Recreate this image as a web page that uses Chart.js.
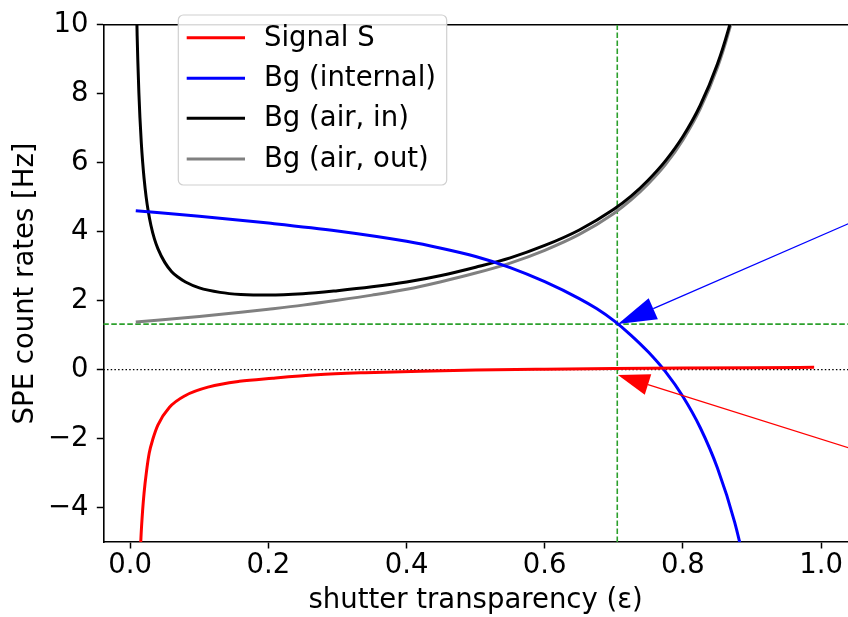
<!DOCTYPE html>
<html>
<head>
<meta charset="utf-8">
<script src="https://cdn.jsdelivr.net/npm/chart.js@4.4.1/dist/chart.umd.min.js"></script>
<style>
  html, body { margin: 0; padding: 0; background: #fff; }
  #chart { display: block; }
</style>
</head>
<body>
<canvas id="chart" width="848" height="617" style="width:848px;height:617px"></canvas>
<script>
// values
const sigX = [0.008, 0.01, 0.0125, 0.0155, 0.018, 0.02, 0.0235, 0.0275, 0.033, 0.04, 0.0565, 0.08, 0.114, 0.158, 0.206, 0.27, 0.34, 0.42, 0.5, 0.6, 0.7, 0.8, 0.9, 0.99];
const sigY = [-12.3, -8.76, -6.44, -4.88, -4.06, -3.58, -2.96, -2.42, -2.0, -1.61, -1.1, -0.75, -0.5, -0.34, -0.25, -0.15, -0.09, -0.045, -0.015, 0.01, 0.03, 0.045, 0.057, 0.066];

const bgIntX = [0.008, 0.1, 0.2, 0.3, 0.4, 0.45, 0.5, 0.55, 0.6, 0.65, 0.675, 0.7, 0.725, 0.75, 0.775, 0.8, 0.825, 0.85, 0.875, 0.9];
const bgIntY = [4.61, 4.45, 4.25, 4.02, 3.72, 3.52, 3.28, 2.96, 2.55, 2.06, 1.77, 1.42, 0.995, 0.508, -0.067, -0.78, -1.68, -2.855, -4.43, -6.555];

const airInX = [0.008, 0.01, 0.011, 0.0125, 0.014, 0.016, 0.018, 0.02, 0.023, 0.026, 0.03, 0.035, 0.04, 0.05, 0.06, 0.07, 0.08, 0.1, 0.13, 0.16, 0.2, 0.25, 0.3, 0.35, 0.4, 0.45, 0.5, 0.55, 0.6, 0.65, 0.7, 0.725, 0.75, 0.775, 0.8, 0.825, 0.85, 0.865, 0.88, 0.9];
const airInY = [11.76, 9.68, 8.94, 8.03, 7.32, 6.58, 6.01, 5.55, 5.01, 4.6, 4.18, 3.79, 3.51, 3.11, 2.84, 2.67, 2.54, 2.37, 2.24, 2.18, 2.16, 2.2, 2.29, 2.4, 2.54, 2.73, 2.97, 3.24, 3.6, 4.05, 4.65, 5.03, 5.5, 6.06, 6.76, 7.66, 8.86, 9.8, 10.95, 13.0];

const airOutX = [0.008, 0.1, 0.16, 0.2, 0.25, 0.3, 0.35, 0.4, 0.45, 0.5, 0.55, 0.6, 0.65, 0.7, 0.725, 0.75, 0.775, 0.8, 0.825, 0.85, 0.865, 0.88, 0.9];
const airOutY = [1.38, 1.54, 1.66, 1.75, 1.87, 2.01, 2.16, 2.33, 2.55, 2.8, 3.09, 3.46, 3.92, 4.53, 4.92, 5.39, 5.95, 6.66, 7.56, 8.76, 9.7, 10.86, 12.9];

const labels = ['Signal S', 'Bg (internal)', 'Bg (air, in)', 'Bg (air, out)'];
const colors = ['#ff0000', '#0000ff', '#000000', '#808080'];

const xTicks = [0.0, 0.2, 0.4, 0.6, 0.8, 1.0];
const yTicks = [-4, -2, 0, 2, 4, 6, 8, 10];
const xRange = [-0.039, 1.039];
const yRange = [-5, 10];

// working point markers
const workX = 0.705;
const workY = 1.32;

// annotation arrows (tip -> tail, data units)
const arrowTipX = [0.706, 0.706];
const arrowTipY = [1.32, -0.16];
const arrowTailX = [1.10, 1.10];
const arrowTailY = [4.76, -2.65];
const arrowColors = ['#0000ff', '#ff0000'];

const FONT = "'DejaVu Sans', sans-serif";
const FS = 27.5;
Chart.defaults.font.family = FONT;
Chart.defaults.font.size = FS;
Chart.defaults.color = '#000';

const pts = (xs, ys) => xs.map((x, i) => ({ x: x, y: ys[i] }));

const curve = (i, xs, ys) => ({
    label: labels[i], data: pts(xs, ys), borderColor: colors[i], borderWidth: 3,
    pointRadius: 0, cubicInterpolationMode: 'monotone', clip: 0, order: 0
});

const refLine = (data, color, dash, width) => ({
    label: '', data: data, borderColor: color, borderWidth: width, borderDash: dash,
    pointRadius: 0, clip: 0, order: 1
});

const topSpine = {
    id: 'topSpine',
    beforeDatasetsDraw(chart) {
        const { ctx, chartArea } = chart;
        ctx.save();
        ctx.strokeStyle = '#000';
        ctx.lineWidth = 1.6;
        ctx.beginPath();
        ctx.moveTo(chartArea.left, chartArea.top);
        ctx.lineTo(chartArea.right, chartArea.top);
        ctx.stroke();
        ctx.restore();
    }
};

const arrows = {
    id: 'arrows',
    afterDatasetsDraw(chart) {
        const { ctx, scales: { x, y } } = chart;
        const heads = [[38.5, 23], [31.5, 21.5]];
        arrowTipX.forEach((tx, i) => {
            const px = x.getPixelForValue(tx), py = y.getPixelForValue(arrowTipY[i]);
            const qx = x.getPixelForValue(arrowTailX[i]), qy = y.getPixelForValue(arrowTailY[i]);
            const len = Math.hypot(qx - px, qy - py);
            const ux = (qx - px) / len, uy = (qy - py) / len;
            const hl = heads[i][0], hw = heads[i][1] / 2;
            const bx = px + ux * hl, by = py + uy * hl;
            ctx.save();
            ctx.strokeStyle = arrowColors[i];
            ctx.fillStyle = arrowColors[i];
            ctx.lineWidth = 1.3;
            ctx.beginPath();
            ctx.moveTo(bx, by);
            ctx.lineTo(qx, qy);
            ctx.stroke();
            ctx.beginPath();
            ctx.moveTo(px, py);
            ctx.lineTo(bx - uy * hw, by + ux * hw);
            ctx.lineTo(bx + uy * hw, by - ux * hw);
            ctx.closePath();
            ctx.fill();
            ctx.restore();
        });
    }
};

// legend box drawn inside the axes, upper left
const legendBox = {
    id: 'legendBox',
    afterDraw(chart) {
        const ctx = chart.ctx;
        const x0 = 178.3, y0 = 15, x1 = 446.7, y1 = 185, r = 5;
        ctx.save();
        ctx.beginPath();
        ctx.moveTo(x0 + r, y0);
        ctx.lineTo(x1 - r, y0);
        ctx.arcTo(x1, y0, x1, y0 + r, r);
        ctx.lineTo(x1, y1 - r);
        ctx.arcTo(x1, y1, x1 - r, y1, r);
        ctx.lineTo(x0 + r, y1);
        ctx.arcTo(x0, y1, x0, y1 - r, r);
        ctx.lineTo(x0, y0 + r);
        ctx.arcTo(x0, y0, x0 + r, y0, r);
        ctx.closePath();
        ctx.fillStyle = 'rgba(255,255,255,0.85)';
        ctx.fill();
        ctx.strokeStyle = '#d0d0d0';
        ctx.lineWidth = 1.2;
        ctx.stroke();
        ctx.font = FS + 'px ' + FONT;
        ctx.textBaseline = 'middle';
        ctx.textAlign = 'left';
        const rows = [37.7, 78.3, 118.3, 159];
        chart.data.datasets.slice(0, 4).forEach((ds, i) => {
            ctx.strokeStyle = ds.borderColor;
            ctx.lineWidth = 3;
            ctx.beginPath();
            ctx.moveTo(186.7, rows[i]);
            ctx.lineTo(245, rows[i]);
            ctx.stroke();
            ctx.fillStyle = '#000';
            ctx.fillText(ds.label, 264, rows[i] + 1);
        });
        ctx.restore();
    }
};

new Chart(document.getElementById('chart'), {
    type: 'line',
    data: {
        datasets: [
            curve(0, sigX, sigY),
            curve(1, bgIntX, bgIntY),
            curve(2, airInX, airInY),
            curve(3, airOutX, airOutY),
            refLine(pts(xRange, [0, 0]), '#000', [1.5, 2.2], 1.3),
            refLine(pts(xRange, [workY, workY]), '#2ca02c', [5.5, 2.5], 1.6),
            refLine(pts([workX, workX], yRange), '#2ca02c', [5.5, 2.5], 1.6)
        ]
    },
    options: {
        responsive: false,
        animation: false,
        layout: { padding: { top: 18.5, right: 0, bottom: 0, left: 0 } },
        plugins: { legend: { display: false }, tooltip: { enabled: false } },
        scales: {
            x: {
                type: 'linear', min: xRange[0], max: xRange[1],
                afterBuildTicks: s => { s.ticks = xTicks.map(v => ({ value: v })); },
                afterFit: s => { s.height = 75; },
                ticks: { callback: v => v.toFixed(1), padding: 1, autoSkip: false, maxRotation: 0, color: '#000' },
                grid: { drawOnChartArea: false, drawTicks: true, tickLength: 6.5, tickWidth: 1.5, tickColor: '#000' },
                border: { display: true, color: '#000', width: 1.6 },
                title: { display: true, text: 'shutter transparency (\u03b5)', color: '#000', padding: { top: 0, bottom: 0 } }
            },
            y: {
                type: 'linear', min: yRange[0], max: yRange[1],
                afterBuildTicks: s => { s.ticks = yTicks.map(v => ({ value: v })); },
                afterFit: s => { s.width = 103.3; },
                ticks: { callback: v => v < 0 ? '\u2212' + Math.abs(v) : String(v), padding: 8.3, autoSkip: false, color: '#000' },
                grid: { drawOnChartArea: false, drawTicks: true, tickLength: 6.5, tickWidth: 1.5, tickColor: '#000' },
                border: { display: true, color: '#000', width: 1.6 },
                title: { display: true, text: 'SPE count rates [Hz]', color: '#000', padding: { top: 9.5, bottom: 0 } }
            }
        }
    },
    plugins: [topSpine, arrows, legendBox]
});
</script>
</body>
</html>
